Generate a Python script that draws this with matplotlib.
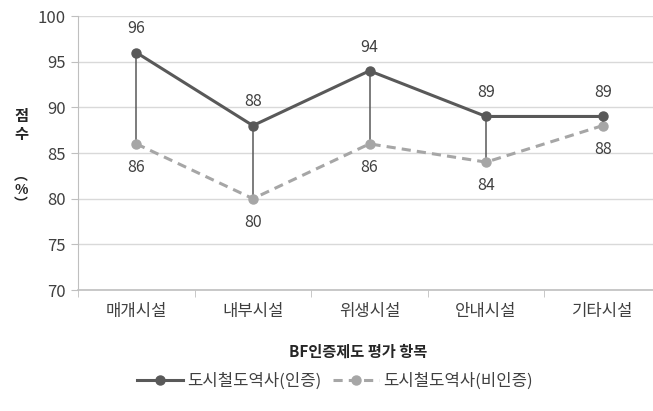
import matplotlib.pyplot as plt

plt.rcParams['font.family'] = ['Noto Sans CJK KR', 'DejaVu Sans']

categories = ['매개시설', '내부시설', '위생시설', '안내시설', '기타시설']
certified = [96, 88, 94, 89, 89]
uncertified = [86, 80, 86, 84, 88]
label_cert = '도시철도역사(인증)'
label_uncert = '도시철도역사(비인증)'

dark = '#595959'
light = '#A6A6A6'
text_c = '#404040'

fig = plt.figure(figsize=(6.53, 4.11), dpi=100)
ax = fig.add_axes([78 / 653, 1 - 290 / 411, 583 / 653, 274 / 411])

x = list(range(len(categories)))

# 수직 연결선 (high-low)
ax.vlines(x, uncertified, certified, colors=dark, linewidth=1.1, zorder=2)

ax.plot(x, uncertified, color=light, linewidth=2.2, linestyle=(0, (3, 2)),
        marker='o', markersize=6.5, label=label_uncert, zorder=3)
ax.plot(x, certified, color=dark, linewidth=2.2,
        marker='o', markersize=6.5, label=label_cert, zorder=4)

for xi, v in zip(x, certified):
    ax.annotate(str(v), (xi, v), xytext=(0, 11), textcoords='offset points',
                ha='center', va='bottom', fontsize=11.5, color=text_c)
for xi, v in zip(x, uncertified):
    ax.annotate(str(v), (xi, v), xytext=(0, -11), textcoords='offset points',
                ha='center', va='top', fontsize=11.5, color=text_c)

ax.set_ylim(70, 100)
ax.set_yticks(range(70, 101, 5))
ax.set_xlim(-0.5, 4.5)
ax.set_xticks(x)
ax.set_xticklabels(categories, fontsize=12, color=text_c)
ax.set_xticks([i + 0.5 for i in range(-1, 5)], minor=True)
ax.tick_params(axis='x', which='major', length=0, pad=9)
ax.tick_params(axis='x', which='minor', length=5, color='#BFBFBF')
ax.tick_params(axis='y', labelsize=12, colors=text_c, length=5, color='#BFBFBF', pad=4)
for lbl in ax.get_yticklabels():
    lbl.set_color(text_c)

ax.grid(axis='y', color='#D9D9D9', linewidth=1)
ax.set_axisbelow(True)
for s in ['top', 'right']:
    ax.spines[s].set_visible(False)
ax.spines['left'].set_color('#BFBFBF')
ax.spines['bottom'].set_color('#BFBFBF')
ax.spines['bottom'].set_linewidth(1.2)

# y축 제목 (세로 쓰기)
yx = 21 / 653
fig.text(yx, 1 - 125 / 411, '점\n수', ha='center', va='center',
         fontsize=11, fontweight='bold', color='#262626', linespacing=1.1)
fig.text(yx, 1 - 190 / 411, '︵\n%\n︶', ha='center', va='center',
         fontsize=10, fontweight='bold', color='#262626', linespacing=1.05)

fig.text(358 / 653, 1 - 352 / 411, 'BF인증제도 평가 항목', ha='center', va='center',
         fontsize=11, fontweight='bold', color='#262626')

handles, labels = ax.get_legend_handles_labels()
fig.legend(handles[::-1], labels[::-1], loc='center', bbox_to_anchor=(335 / 653, 1 - 381 / 411),
           ncol=2, frameon=False, fontsize=12, handlelength=2.75, columnspacing=0.7,
           handletextpad=0.25, labelcolor=text_c)

fig.savefig('out.png', dpi=100)
